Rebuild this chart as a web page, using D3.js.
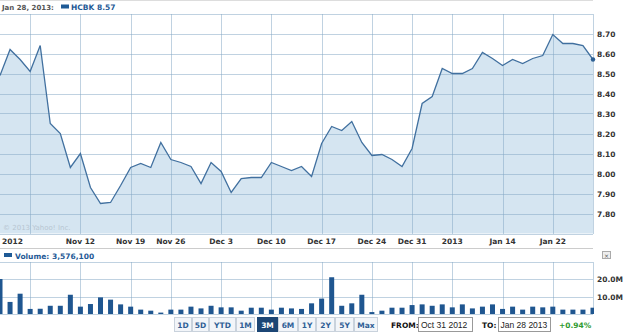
<!DOCTYPE html>
<html>
<head>
<meta charset="utf-8">
<title>HCBK 3M</title>
<script src="https://d3js.org/d3.v7.min.js"></script>
<style>
  body { margin: 0; background: #fff; }
  text { font-family: "DejaVu Sans", Verdana, sans-serif; }
  .ax { font-size: 7.5px; font-weight: bold; fill: #333; }
  .grid line { stroke: rgba(130, 165, 195, 0.5); stroke-width: 1; shape-rendering: crispEdges; }
</style>
</head>
<body>
<script>
// trading days shown on the chart
const dates = [
  "2012-10-31","2012-11-01","2012-11-02",
  "2012-11-05","2012-11-06","2012-11-07","2012-11-08","2012-11-09",
  "2012-11-12","2012-11-13","2012-11-14","2012-11-15","2012-11-16",
  "2012-11-19","2012-11-20","2012-11-21","2012-11-23",
  "2012-11-26","2012-11-27","2012-11-28","2012-11-29","2012-11-30",
  "2012-12-03","2012-12-04","2012-12-05","2012-12-06","2012-12-07",
  "2012-12-10","2012-12-11","2012-12-12","2012-12-13","2012-12-14",
  "2012-12-17","2012-12-18","2012-12-19","2012-12-20","2012-12-21",
  "2012-12-24","2012-12-26","2012-12-27","2012-12-28",
  "2012-12-31","2013-01-02","2013-01-03","2013-01-04",
  "2013-01-07","2013-01-08","2013-01-09","2013-01-10","2013-01-11",
  "2013-01-14","2013-01-15","2013-01-16","2013-01-17","2013-01-18",
  "2013-01-22","2013-01-23","2013-01-24","2013-01-25",
  "2013-01-28"
];
const prices = [
  8.49, 8.62, 8.57,
  8.51, 8.64, 8.25, 8.20, 8.03,
  8.10, 7.93, 7.85, 7.855, 7.94,
  8.03, 8.05, 8.03, 8.155,
  8.07, 8.055, 8.035, 7.95, 8.055,
  8.01, 7.905, 7.975, 7.98, 7.98,
  8.055, 8.035, 8.015, 8.035, 7.985,
  8.15, 8.235, 8.215, 8.26, 8.155,
  8.09, 8.095, 8.07, 8.035,
  8.125, 8.35, 8.385, 8.525,
  8.50, 8.50, 8.525, 8.605, 8.575,
  8.54, 8.57, 8.55, 8.575, 8.59,
  8.695, 8.65, 8.65, 8.64,
  8.57
];
// volume in millions
const volumes = [
  20.0, 6.9, 11.6,
  2.9, 3.0, 4.7, 4.7, 11.0,
  4.2, 5.7, 9.5, 8.2, 5.5,
  4.2, 2.5, 1.9, 0.8,
  2.5, 2.5, 4.2, 3.2, 4.7,
  3.8, 3.8, 1.9, 3.6, 3.6,
  2.5, 3.6, 3.2, 2.9, 6.1,
  8.8, 21.0, 4.7, 6.1, 11.0,
  1.1, 1.9, 3.6, 3.6,
  5.1, 5.5, 4.7, 5.5,
  3.8, 5.5, 3.2, 4.2, 5.5,
  2.9, 4.2, 2.5, 4.2, 3.8,
  4.2, 2.5, 2.5, 2.5,
  3.6
];
const gridDates = ["2012-11-05","2012-11-12","2012-11-19","2012-11-26","2012-12-03","2012-12-10",
                   "2012-12-17","2012-12-24","2012-12-31","2013-01-07","2013-01-14","2013-01-22"];
const tickDates = ["2012-11-12","2012-11-19","2012-11-26","2012-12-03","2012-12-10",
                   "2012-12-17","2012-12-24","2012-12-31","2013-01-07","2013-01-14","2013-01-22"];
const tickLabels = ["Nov 12","Nov 19","Nov 26","Dec 3","Dec 10","Dec 17","Dec 24","Dec 31","2013","Jan 14","Jan 22"];
const priceTicks = [7.80, 7.90, 8.00, 8.10, 8.20, 8.30, 8.40, 8.50, 8.60, 8.70];
const volTicks = [10, 20];
const ranges = ["1D","5D","YTD","1M","3M","6M","1Y","2Y","5Y","Max"];

const W = 625, H = 334, right = 593;
const svg = d3.select("body").append("svg").attr("width", W).attr("height", H);

const x = d3.scalePoint().domain(dates).range([0, right]);
const y = d3.scaleLinear().domain([7.70, 8.80]).range([233.5, 13.5]);
const yv = d3.scaleLinear().domain([0, 30]).range([314, 261.5]);

const pts = dates.map((d, i) => ({ d: d, v: prices[i], vol: volumes[i] }));

// header
svg.append("line").attr("x1", 0).attr("x2", right).attr("y1", 0.5).attr("y2", 0.5).attr("stroke", "#ddd");
svg.append("text").attr("x", 2).attr("y", 10).attr("font-size", "7px").attr("font-weight", "bold")
  .attr("fill", "#555").text("Jan 28, 2013:");
svg.append("rect").attr("x", 61).attr("y", 4.5).attr("width", 8).attr("height", 4).attr("fill", "#1f5a96");
svg.append("text").attr("x", 71).attr("y", 10).attr("font-size", "7.5px").attr("font-weight", "bold")
  .attr("fill", "#1f5a96").text("HCBK 8.57");

// price area, then grid on top
svg.append("path").datum(pts)
  .attr("d", d3.area().x(p => x(p.d)).y0(y(7.70)).y1(p => y(p.v)))
  .attr("fill", "#d5e5f1");

const pg = svg.append("g").attr("class", "grid");
pg.selectAll(".h").data(d3.range(7.70, 8.81, 0.1)).enter().append("line")
  .attr("x1", 0).attr("x2", right)
  .attr("y1", d => Math.round(y(d)) + 0.5).attr("y2", d => Math.round(y(d)) + 0.5);
pg.selectAll(".v").data(gridDates.concat([dates[dates.length - 1]])).enter().append("line")
  .attr("x1", d => Math.round(x(d)) + 0.5).attr("x2", d => Math.round(x(d)) + 0.5)
  .attr("y1", y(8.80)).attr("y2", y(7.70));

svg.append("path").datum(pts)
  .attr("d", d3.line().x(p => x(p.d)).y(p => y(p.v)))
  .attr("fill", "none").attr("stroke", "#41709f").attr("stroke-width", 1.3);
svg.append("circle").attr("cx", x(dates[59])).attr("cy", y(prices[59])).attr("r", 2.2).attr("fill", "#2d5f93");

svg.append("text").attr("x", 3).attr("y", 230).attr("font-size", "7px").attr("fill", "#b8c6d2")
  .text("\u00a9 2013 Yahoo! Inc.");

// price axis labels
svg.selectAll(".py").data(priceTicks).enter().append("text").attr("class", "ax")
  .attr("x", 597).attr("y", d => y(d) + 3).text(d => d.toFixed(2));
svg.append("text").attr("class", "ax").attr("x", 2).attr("y", 243.5).text("2012");
svg.selectAll(".px").data(tickDates).enter().append("text").attr("class", "ax")
  .attr("x", d => x(d)).attr("y", 243.5).attr("text-anchor", "middle")
  .text((d, i) => tickLabels[i]);

svg.append("line").attr("x1", 0).attr("x2", right).attr("y1", 248.5).attr("y2", 248.5).attr("stroke", "#ccc");

// volume header
svg.append("rect").attr("x", 4).attr("y", 253).attr("width", 8).attr("height", 4).attr("fill", "#1f5a96");
svg.append("text").attr("x", 15).attr("y", 258.5).attr("font-size", "7.5px").attr("font-weight", "bold")
  .attr("fill", "#1f5a96").text("Volume: 3,576,100");
svg.append("rect").attr("x", 602.5).attr("y", 251.5).attr("width", 8).attr("height", 7)
  .attr("fill", "#eee").attr("stroke", "#aaa");
svg.append("text").attr("x", 606.5).attr("y", 257.5).attr("text-anchor", "middle").attr("font-size", "6px")
  .attr("fill", "#555").text("\u00d7");

// volume grid
const vg = svg.append("g").attr("class", "grid");
vg.selectAll(".h").data([0, 10, 20, 30]).enter().append("line")
  .attr("x1", 0).attr("x2", right)
  .attr("y1", d => Math.round(yv(d)) + 0.5).attr("y2", d => Math.round(yv(d)) + 0.5);
vg.selectAll(".v").data(gridDates.concat([dates[dates.length - 1]])).enter().append("line")
  .attr("x1", d => Math.round(x(d)) + 0.5).attr("x2", d => Math.round(x(d)) + 0.5)
  .attr("y1", yv(30)).attr("y2", yv(0));

svg.append("clipPath").attr("id", "vclip").append("rect").attr("x", 0).attr("y", 255).attr("width", right + 1).attr("height", 60);
svg.append("g").attr("clip-path", "url(#vclip)")
  .selectAll("rect").data(pts).enter().append("rect")
  .attr("x", p => x(p.d) - 2.5).attr("width", 5)
  .attr("y", p => yv(p.vol)).attr("height", p => yv(0) - yv(p.vol))
  .attr("fill", "#1f5690");

svg.selectAll(".vy").data(volTicks).enter().append("text").attr("class", "ax")
  .attr("x", 597).attr("y", d => yv(d) + 3).text(d => d.toFixed(1) + "M");

// range buttons
const bw = [18, 17, 27, 19, 21, 20, 18, 19, 19, 24];
let bx = 174;
const bg = svg.append("g");
ranges.forEach((r, i) => {
  const sel = r === "3M";
  const xx = sel ? bx + 2 : bx;
  bg.append("rect").attr("x", xx + 0.5).attr("y", 317.5).attr("width", bw[i] - 1).attr("height", 14)
    .attr("fill", sel ? "#1c4675" : "#f2f5f9").attr("stroke", sel ? "#1c4675" : "#c9d2dc");
  bg.append("text").attr("x", xx + bw[i] / 2).attr("y", 327.5).attr("text-anchor", "middle")
    .attr("font-size", "7.5px").attr("font-weight", "bold").attr("fill", sel ? "#fff" : "#2f5f96").text(r);
  bx += bw[i] + (sel ? 2 : 0);
});

svg.append("text").attr("x", 391).attr("y", 328).attr("font-size", "7.5px").attr("font-weight", "bold")
  .attr("fill", "#111").text("FROM:");
svg.append("rect").attr("x", 418.5).attr("y", 317.5).attr("width", 54).attr("height", 14).attr("fill", "#fff").attr("stroke", "#999");
svg.append("text").attr("x", 421).attr("y", 328).attr("font-size", "8.5px").style("font-family", "'Liberation Sans', Arial")
  .attr("fill", "#222").text("Oct 31 2012");
svg.append("text").attr("x", 482).attr("y", 328).attr("font-size", "7.5px").attr("font-weight", "bold")
  .attr("fill", "#111").text("TO:");
svg.append("rect").attr("x", 498.5).attr("y", 317.5).attr("width", 52).attr("height", 14).attr("fill", "#fff").attr("stroke", "#999");
svg.append("text").attr("x", 500.5).attr("y", 328).attr("font-size", "8.5px").style("font-family", "'Liberation Sans', Arial")
  .attr("fill", "#222").text("Jan 28 2013");
svg.append("text").attr("x", 559).attr("y", 328).attr("font-size", "7.5px").attr("font-weight", "bold")
  .attr("fill", "#2f9a2f").text("+0.94%");
</script>
</body>
</html>
